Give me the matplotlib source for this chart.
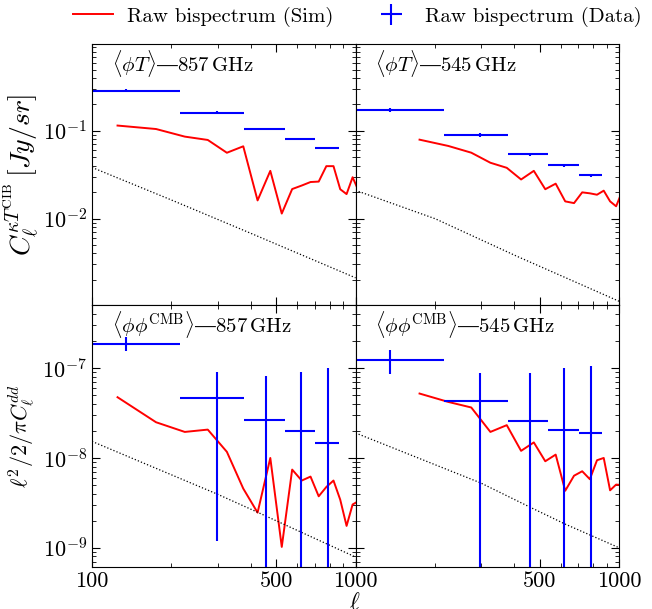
import matplotlib
matplotlib.use('Agg')
import matplotlib.pyplot as plt
from matplotlib.ticker import FixedLocator, FixedFormatter, NullFormatter, LogLocator

plt.rcParams['font.family'] = ['cmr10', 'DejaVu Serif']
plt.rcParams['mathtext.fontset'] = 'cm'
plt.rcParams['axes.formatter.use_mathtext'] = True
plt.rcParams['axes.unicode_minus'] = False

# simulation multipoles (bins of 50)
ell_sim_857 = [125, 175, 225, 275, 325, 375, 425, 475, 525, 575, 625, 675,
               725, 775, 825, 875, 925, 975, 1025]
ell_sim_545 = ell_sim_857[1:]

sim_phiT_857 = [0.115, 0.105, 0.086, 0.0788, 0.0563, 0.0667, 0.0161, 0.035, 0.0114,
                0.0217, 0.0238, 0.0261, 0.0264, 0.0396, 0.0396, 0.0216, 0.019, 0.0296, 0.021]
sim_phiT_545 = [0.0794, 0.0673, 0.0564, 0.0433, 0.0379, 0.0279, 0.035, 0.0216, 0.025,
                0.0157, 0.015, 0.0199, 0.0194, 0.0187, 0.0208, 0.0157, 0.0138, 0.020]
sim_phiphi_857 = [4.75e-8, 2.50e-8, 1.95e-8, 2.07e-8, 1.17e-8, 4.56e-9, 2.46e-9, 1.0e-8,
                  1.02e-9, 7.42e-9, 5.6e-9, 6.2e-9, 3.74e-9, 4.75e-9, 5.6e-9, 3.43e-9,
                  1.75e-9, 3.03e-9, 3.3e-9]
sim_phiphi_545 = [5.22e-8, 4.21e-8, 3.65e-8, 1.95e-8, 2.32e-8, 1.20e-8, 1.49e-8, 9.19e-9,
                  1.09e-8, 4.31e-9, 6.34e-9, 7.11e-9, 5.80e-9, 9.43e-9, 1.0e-8, 4.36e-9,
                  5.05e-9, 5.0e-9]

# data bins
ell_data = [135, 297, 459, 621, 783]
ell_halfwidth = [81, 81, 81, 81, 81]

data_phiT_857 = [0.288, 0.162, 0.105, 0.081, 0.0643]
err_phiT_857 = [0.01, 0.005, 0.003, 0.002, 0.0015]
data_phiT_545 = [0.174, 0.090, 0.054, 0.0407, 0.031]
err_phiT_545 = [0.008, 0.004, 0.002, 0.0015, 0.001]
data_phiphi_857 = [1.88e-7, 4.64e-8, 2.68e-8, 1.99e-8, 1.47e-8]
err_phiphi_857 = [3.2e-8, 4.52e-8, 5.5e-8, 7.0e-8, 8.6e-8]
data_phiphi_545 = [1.23e-7, 4.36e-8, 2.58e-8, 2.07e-8, 1.90e-8]
err_phiphi_545 = [3.6e-8, 4.5e-8, 6.3e-8, 7.9e-8, 8.8e-8]

# theory curves (dotted)
ell_th_phiT_857 = [100, 200, 400, 1000]
th_phiT_857 = [0.0383, 0.0163, 0.0068, 0.00211]
ell_th_phiT_545 = [100, 201, 406, 1000]
th_phiT_545 = [0.0210, 0.00993, 0.00376, 0.00114]
ell_th_phiphi_857 = [100, 298, 423, 1000]
th_phiphi_857 = [1.53e-8, 3.97e-9, 2.50e-9, 7.87e-10]
ell_th_phiphi_545 = [100, 299, 463, 628, 1000]
th_phiphi_545 = [1.90e-8, 5.26e-9, 2.80e-9, 1.82e-9, 1.0e-9]

x_ticks = [100, 500, 1000]

panels = [
    (0, 0, r'$\langle\phi T\rangle—$857$\,$GHz', ell_sim_857, sim_phiT_857,
     data_phiT_857, err_phiT_857, ell_th_phiT_857, th_phiT_857),
    (0, 1, r'$\langle\phi T\rangle—$545$\,$GHz', ell_sim_545, sim_phiT_545,
     data_phiT_545, err_phiT_545, ell_th_phiT_545, th_phiT_545),
    (1, 0, r'$\langle\phi\phi^{\rm CMB}\rangle—$857$\,$GHz', ell_sim_857, sim_phiphi_857,
     data_phiphi_857, err_phiphi_857, ell_th_phiphi_857, th_phiphi_857),
    (1, 1, r'$\langle\phi\phi^{\rm CMB}\rangle—$545$\,$GHz', ell_sim_545, sim_phiphi_545,
     data_phiphi_545, err_phiphi_545, ell_th_phiphi_545, th_phiphi_545),
]

fig, axes = plt.subplots(2, 2, figsize=(6.52, 6.09), dpi=100, sharey='row')
plt.subplots_adjust(left=0.1411, right=0.9494, top=0.9278, bottom=0.069, wspace=0, hspace=0)

for row, col, title, ell_s, sim, dat, err, ell_t, th in panels:
    ax = axes[row, col]
    ax.set_xscale('log')
    ax.set_yscale('log')
    sim_line, = ax.plot(ell_s, sim, color='red', lw=1.4, label='Raw bispectrum (Sim)')
    ax.plot(ell_t, th, color='black', ls=':', lw=0.9)
    data_bar = ax.errorbar(ell_data, dat, xerr=ell_halfwidth, yerr=err, fmt='none',
                           ecolor='blue', elinewidth=1.5, capsize=0,
                           label='Raw bispectrum (Data)')
    ax.text(0.075, 0.985, title, transform=ax.transAxes, ha='left', va='top', fontsize=15)
    ax.set_xlim(100, 1000)
    ax.xaxis.set_major_locator(FixedLocator(x_ticks))
    ax.xaxis.set_minor_locator(LogLocator(base=10, subs=range(2, 10)))
    ax.xaxis.set_minor_formatter(NullFormatter())
    if row == 0:
        ax.xaxis.set_major_formatter(NullFormatter())
    elif col == 0:
        ax.xaxis.set_major_formatter(FixedFormatter(['100', '500', '1000']))
    else:
        ax.xaxis.set_major_formatter(FixedFormatter(['', '500', '1000']))
    ax.tick_params(which='both', direction='in', top=True, right=True, labelsize=16)
    ax.tick_params(which='major', length=6)
    ax.tick_params(which='minor', length=3)
    if col == 1:
        ax.tick_params(labelleft=False)

axes[0, 0].set_ylim(1.02e-3, 0.98)
axes[1, 0].set_ylim(6.1e-10, 5e-7)

axes[0, 0].set_ylabel(r'$C_\ell^{\kappa T^{\rm CIB}}\,[Jy/sr]$', fontsize=20, labelpad=1)
axes[1, 0].set_ylabel(r'$\ell^2/2/\pi C_\ell^{dd}$', fontsize=16, labelpad=4)
fig.text(355 / 652, 1 - 592 / 609, r'$\ell$', ha='center', va='top', fontsize=17)

fig.legend([sim_line, data_bar], ['Raw bispectrum (Sim)', 'Raw bispectrum (Data)'],
           loc='center', bbox_to_anchor=(0.548, 0.973), ncol=2, frameon=False,
           fontsize=15, handlelength=1.9, handletextpad=0.67, columnspacing=1.85)

plt.savefig('out.png', dpi=100)
